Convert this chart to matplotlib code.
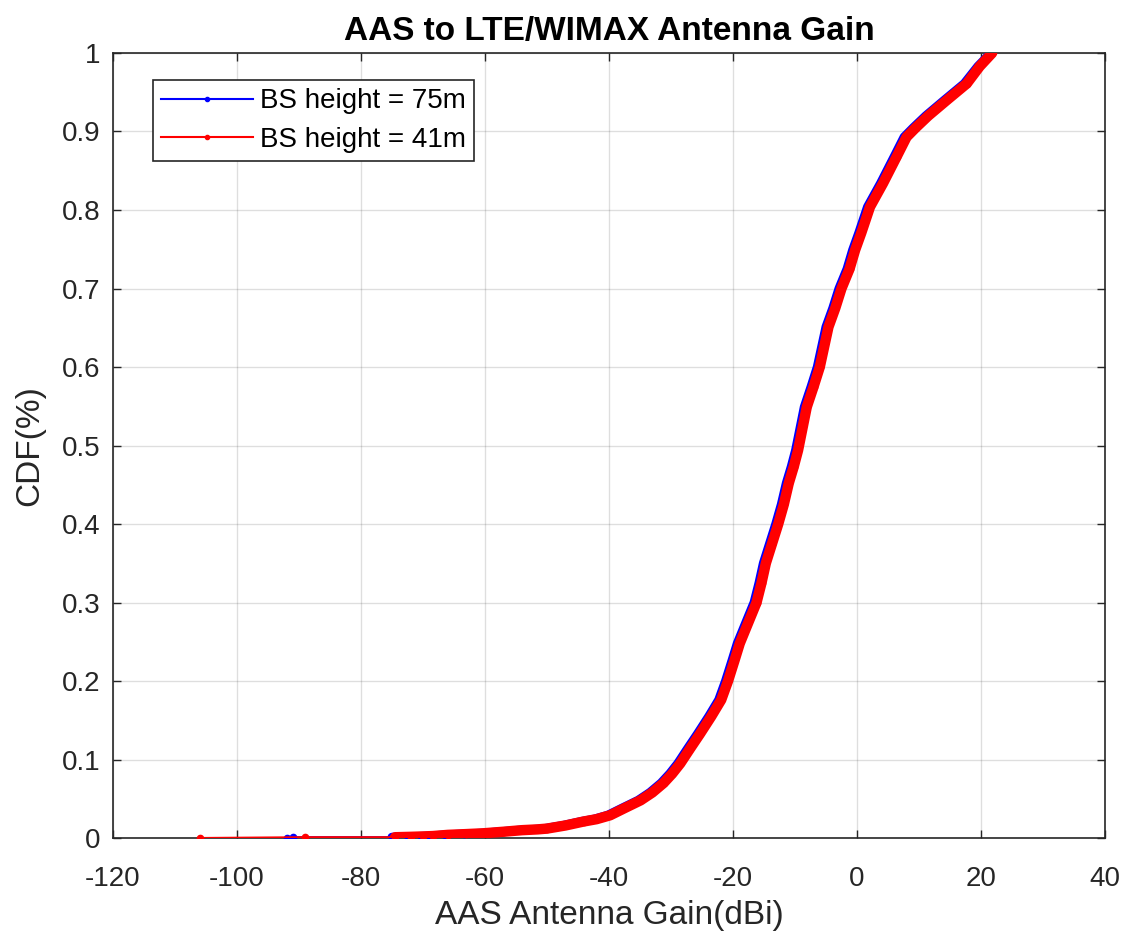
import numpy as np
import matplotlib.pyplot as plt
from matplotlib.lines import Line2D

plt.rcParams['font.family'] = ['Liberation Sans', 'DejaVu Sans']
plt.rcParams['axes.unicode_minus'] = False

# AAS antenna gain (dBi), with cumulative probability
gain_75 = [-92, -91, -75, -72.4, -70.4, -68.8, -66.4, -63.4, -60.7, -57.4,
           -54.4, -51.9, -50.4, -47.4, -44.5, -42.4, -40.2, -37.9, -35.3, -33.4,
           -31.6, -30.2, -28.9, -27.4, -25.7, -23.9, -22.3, -21.2, -20.2, -19.3,
           -17.9, -16.6, -15.8, -15.1, -14.1, -13.1, -12.2, -11.4, -10.6, -9.9,
           -8.5, -7.4, -6.4, -5.0, -3.9, -2.9, -1.6, -0.7, 0.3, 1.7,
           3.8, 6.0, 7.6, 9.1, 11.1, 14.1, 17.3, 19.5, 21.6]
gain_41 = [-106, -89, -74.5, -72, -70, -68.4, -66, -63, -60.3, -57,
           -54, -51.5, -50, -47, -44.1, -42, -39.8, -37.5, -34.9, -33,
           -31.2, -29.8, -28.5, -27, -25.3, -23.5, -21.9, -20.8, -19.8, -18.9,
           -17.5, -16.2, -15.4, -14.7, -13.7, -12.7, -11.8, -11.0, -10.2, -9.5,
           -8.1, -7.0, -6.0, -4.6, -3.5, -2.5, -1.2, -0.3, 0.7, 2.1,
           4.2, 6.4, 8.0, 9.5, 11.5, 14.5, 17.7, 19.8, 21.8]
cdf_75 = [0.0, 0.001, 0.001, 0.0015, 0.002, 0.0025, 0.004, 0.005, 0.006, 0.008,
          0.01, 0.011, 0.012, 0.016, 0.021, 0.024, 0.029, 0.038, 0.048, 0.058,
          0.070, 0.082, 0.095, 0.113, 0.133, 0.155, 0.176, 0.2, 0.225, 0.248,
          0.275, 0.3, 0.325, 0.35, 0.375, 0.4, 0.425, 0.452, 0.473, 0.494,
          0.549, 0.575, 0.6, 0.651, 0.675, 0.7, 0.725, 0.749, 0.771, 0.804,
          0.834, 0.868, 0.893, 0.905, 0.92, 0.94, 0.961, 0.983, 1.0]
cdf_41 = [0.0, 0.001, 0.001, 0.0015, 0.002, 0.0025, 0.004, 0.005, 0.006, 0.008,
          0.01, 0.011, 0.012, 0.016, 0.021, 0.024, 0.029, 0.038, 0.048, 0.058,
          0.070, 0.082, 0.095, 0.113, 0.133, 0.155, 0.176, 0.2, 0.225, 0.248,
          0.275, 0.3, 0.325, 0.35, 0.375, 0.4, 0.425, 0.452, 0.473, 0.494,
          0.549, 0.575, 0.6, 0.651, 0.675, 0.7, 0.725, 0.749, 0.771, 0.804,
          0.834, 0.868, 0.893, 0.905, 0.92, 0.94, 0.961, 0.983, 1.0]
labels = ['BS height = 75m', 'BS height = 41m']

fig = plt.figure(figsize=(11.31, 9.38), dpi=100)
ax = fig.add_axes([0.0999, 0.1066, 0.8771, 0.8369])

# thin tail line, then the dense band of sample markers
ax.plot(gain_75, cdf_75, '-', color='blue', lw=1.5, zorder=3)
ax.plot(gain_75[2:], cdf_75[2:], '-', color='blue', lw=6.5, solid_capstyle='round', zorder=3)
ax.plot(gain_75, cdf_75, '.', color='blue', ms=9, zorder=3)
ax.plot(gain_41, cdf_41, '-', color='red', lw=1.5, zorder=4)
ax.plot(gain_41[2:], cdf_41[2:], '-', color='red', lw=7.5, solid_capstyle='round', zorder=4)
ax.plot(gain_41, cdf_41, '.', color='red', ms=9, zorder=4)

ax.set_xlim(-120, 40)
ax.set_ylim(0, 1)
ax.set_xticks(np.arange(-120, 41, 20))
ax.set_yticks(np.arange(0, 1.01, 0.1))
ax.set_yticklabels(['0', '0.1', '0.2', '0.3', '0.4', '0.5', '0.6', '0.7', '0.8', '0.9', '1'])
ax.grid(True, color='#262626', alpha=0.15, lw=1)
ax.tick_params(direction='in', top=True, right=True, length=6, width=1,
               colors='#262626', labelsize=20)
ax.tick_params(axis='x', pad=20)
ax.tick_params(axis='y', pad=9)
for sp in ax.spines.values():
    sp.set_color('#262626')
    sp.set_linewidth(1.2)

ax.set_title('AAS to LTE/WIMAX Antenna Gain', fontsize=24, fontweight='bold', pad=9)
ax.set_xlabel('AAS Antenna Gain(dBi)', fontsize=24, color='#262626', labelpad=6)
ax.set_ylabel('CDF(%)', fontsize=24, color='#262626', labelpad=12)

handles = [Line2D([], [], color='blue', lw=1.5, marker='.', ms=6),
           Line2D([], [], color='red', lw=1.5, marker='.', ms=6)]
leg = ax.legend(handles, labels, loc='upper left', bbox_to_anchor=(0.040, 0.9656),
                borderaxespad=0, fontsize=20, fancybox=False, edgecolor='#262626',
                framealpha=1, handlelength=3.3, handletextpad=0.25,
                borderpad=0.3, labelspacing=0.45)
leg.get_frame().set_linewidth(1.2)

fig.savefig('out.png', dpi=100)
